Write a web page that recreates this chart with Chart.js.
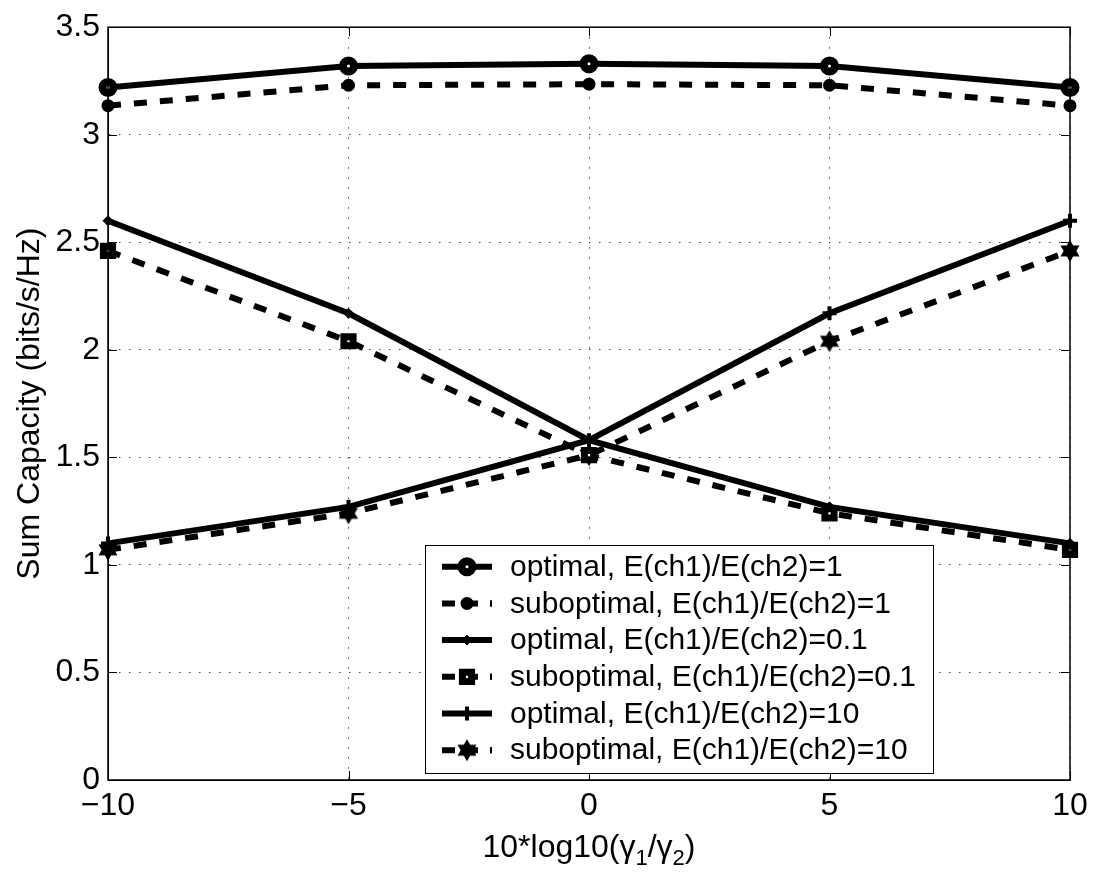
<!DOCTYPE html>
<html>
<head>
<meta charset="utf-8">
<script src="https://cdn.jsdelivr.net/npm/chart.js@4.4.1/dist/chart.umd.min.js"></script>
<style>
  html, body { margin: 0; padding: 0; background: #fff; }
  #wrap { width: 1095px; height: 879px; }
</style>
</head>
<body>
<div id="wrap"><canvas id="cap" width="1095" height="879"></canvas></div>
<script>
// Sum capacity vs 10*log10(gamma1/gamma2), optimal and suboptimal schemes

const xValues = [-10, -5, 0, 5, 10];

const optimal1 = [3.22, 3.32, 3.33, 3.32, 3.22];
const suboptimal1 = [3.135, 3.23, 3.235, 3.23, 3.135];
const optimal01 = [2.60, 2.17, 1.58, 1.27, 1.10];
const suboptimal01 = [2.46, 2.04, 1.51, 1.24, 1.07];
const optimal10 = [1.10, 1.27, 1.58, 2.17, 2.60];
const suboptimal10 = [1.07, 1.24, 1.51, 2.04, 2.46];

const seriesLabels = [
  'optimal, E(ch1)/E(ch2)=1',
  'suboptimal, E(ch1)/E(ch2)=1',
  'optimal, E(ch1)/E(ch2)=0.1',
  'suboptimal, E(ch1)/E(ch2)=0.1',
  'optimal, E(ch1)/E(ch2)=10',
  'suboptimal, E(ch1)/E(ch2)=10',
];

const xTicks = [-10, -5, 0, 5, 10];
const yTicks = [0, 0.5, 1, 1.5, 2, 2.5, 3, 3.5];

const FONT = "'Liberation Sans', Arial, Helvetica, sans-serif";
const LEGEND_SIZE = 30;
const AXIS_SIZE = 32;
const DASH = [13, 13];

// filled six-pointed star marker
function makeHexagram(r) {
  const size = Math.ceil(r * 2 + 4);
  const c = document.createElement('canvas');
  c.width = size;
  c.height = size;
  const g = c.getContext('2d');
  const cx = size / 2;
  const cy = size / 2;
  const inner = r / Math.sqrt(3);
  g.beginPath();
  for (let i = 0; i < 12; i++) {
    const a = -Math.PI / 2 + (i * Math.PI) / 6;
    const rr = i % 2 === 0 ? r : inner;
    const px = cx + rr * Math.cos(a);
    const py = cy + rr * Math.sin(a);
    if (i === 0) g.moveTo(px, py); else g.lineTo(px, py);
  }
  g.closePath();
  g.fillStyle = '#000';
  g.fill();
  return c;
}
const hexagram = makeHexagram(11);

function toPoints(ys) {
  return ys.map((y, i) => ({ x: xValues[i], y: y }));
}

function makeSet(label, ys, dashed, marker) {
  return Object.assign({
    label: label,
    data: toPoints(ys),
    borderColor: '#000',
    borderWidth: 6,
    borderDash: dashed ? DASH : [],
    borderCapStyle: 'butt',
    borderJoinStyle: 'miter',
    fill: false,
    tension: 0,
    clip: false,
    pointBorderColor: '#000',
    pointHoverRadius: 0,
  }, marker);
}

const datasets = [
  makeSet(seriesLabels[0], optimal1, false,
    { pointStyle: 'circle', pointRadius: 5.5, pointBorderWidth: 8, pointBackgroundColor: '#fff' }),
  makeSet(seriesLabels[1], suboptimal1, true,
    { pointStyle: 'circle', pointRadius: 6.5, pointBorderWidth: 0, pointBackgroundColor: '#000' }),
  makeSet(seriesLabels[2], optimal01, false,
    { pointStyle: 'rectRot', pointRadius: 5, pointBorderWidth: 1, pointBackgroundColor: '#000' }),
  makeSet(seriesLabels[3], suboptimal01, true,
    { pointStyle: 'rect', pointRadius: 6.5, pointBorderWidth: 7, pointBackgroundColor: '#fff' }),
  makeSet(seriesLabels[4], optimal10, false,
    { pointStyle: 'cross', pointRadius: 7, pointBorderWidth: 4, pointBackgroundColor: '#000' }),
  makeSet(seriesLabels[5], suboptimal10, true,
    { pointStyle: hexagram, pointRadius: 11, pointBorderWidth: 0, pointBackgroundColor: '#000' }),
];

/**
 * Box around the axes with inward tick marks on all four sides.
 */
const framePlugin = {
  id: 'frame',
  afterDatasetsDraw(chart) {
    const { ctx, chartArea: a, scales } = chart;
    ctx.save();
    ctx.setLineDash([]);
    ctx.strokeStyle = '#000';
    ctx.lineWidth = 1.5;
    ctx.strokeRect(a.left, a.top, a.right - a.left, a.bottom - a.top);
    const len = 9;
    ctx.beginPath();
    xTicks.forEach((v) => {
      const px = Math.round(scales.x.getPixelForValue(v)) + 0.5;
      ctx.moveTo(px, a.bottom); ctx.lineTo(px, a.bottom - len);
      ctx.moveTo(px, a.top); ctx.lineTo(px, a.top + len);
    });
    yTicks.forEach((v) => {
      const py = Math.round(scales.y.getPixelForValue(v)) + 0.5;
      ctx.moveTo(a.left, py); ctx.lineTo(a.left + len, py);
      ctx.moveTo(a.right, py); ctx.lineTo(a.right - len, py);
    });
    ctx.lineWidth = 1;
    ctx.stroke();
    ctx.restore();
  },
};

/**
 * Axis titles; the x title carries subscripts so it is drawn piece by piece.
 */
const titlesPlugin = {
  id: 'titles',
  afterDraw(chart) {
    const { ctx, chartArea: a } = chart;
    ctx.save();
    ctx.fillStyle = '#000';

    // y title
    ctx.font = AXIS_SIZE + 'px ' + FONT;
    ctx.textAlign = 'center';
    ctx.textBaseline = 'middle';
    ctx.translate(30, (a.top + a.bottom) / 2);
    ctx.rotate(-Math.PI / 2);
    ctx.fillText('Sum Capacity (bits/s/Hz)', 0, 0);
    ctx.setTransform(1, 0, 0, 1, 0, 0);

    // x title with subscripts
    const parts = [
      { t: '10*log10(\u03b3', sub: false },
      { t: '1', sub: true },
      { t: '/\u03b3', sub: false },
      { t: '2', sub: true },
      { t: ')', sub: false },
    ];
    const mainFont = AXIS_SIZE + 'px ' + FONT;
    const subFont = Math.round(AXIS_SIZE * 0.7) + 'px ' + FONT;
    let total = 0;
    parts.forEach((p) => {
      ctx.font = p.sub ? subFont : mainFont;
      p.w = ctx.measureText(p.t).width;
      total += p.w;
    });
    let x = (a.left + a.right) / 2 - total / 2;
    const base = 857;
    ctx.textAlign = 'left';
    ctx.textBaseline = 'alphabetic';
    parts.forEach((p) => {
      ctx.font = p.sub ? subFont : mainFont;
      ctx.fillText(p.t, x, p.sub ? base + 8 : base);
      x += p.w;
    });
    ctx.restore();
  },
};

/**
 * Boxed legend inside the plot, lower middle.
 */
const legendPlugin = {
  id: 'boxLegend',
  afterDraw(chart) {
    const { ctx } = chart;
    const box = { left: 425, top: 545, width: 508, height: 228 };
    const rowH = 36.7;
    const firstRow = 566.7;
    ctx.save();
    ctx.fillStyle = '#fff';
    ctx.fillRect(box.left, box.top, box.width, box.height);
    ctx.strokeStyle = '#000';
    ctx.lineWidth = 1;
    ctx.setLineDash([]);
    ctx.strokeRect(box.left + 0.5, box.top + 0.5, box.width, box.height);

    chart.data.datasets.forEach((ds, i) => {
      const y = firstRow + i * rowH;
      ctx.beginPath();
      ctx.setLineDash(ds.borderDash.length ? [13, 10, 13, 12] : []);
      ctx.lineCap = 'butt';
      ctx.lineWidth = ds.borderWidth;
      ctx.strokeStyle = '#000';
      ctx.moveTo(442, y);
      ctx.lineTo(492, y);
      ctx.stroke();
      if (ds.borderDash.length) {
        ctx.beginPath();
        ctx.setLineDash([]);
        ctx.lineWidth = 2;
        ctx.moveTo(491, y - 3);
        ctx.lineTo(491, y + 3);
        ctx.stroke();
      }

      ctx.setLineDash([]);
      ctx.fillStyle = ds.pointBackgroundColor;
      ctx.strokeStyle = '#000';
      ctx.lineWidth = ds.pointBorderWidth;
      Chart.helpers.drawPoint(ctx, {
        pointStyle: ds.pointStyle,
        radius: ds.pointRadius,
        borderWidth: ds.pointBorderWidth,
        rotation: 0,
      }, 467, y);

      ctx.fillStyle = '#000';
      ctx.font = LEGEND_SIZE + 'px ' + FONT;
      ctx.textAlign = 'left';
      ctx.textBaseline = 'middle';
      ctx.fillText(ds.label, 510, y + 1);
    });
    ctx.restore();
  },
};

const gridStyle = {
  color: '#444',
  lineWidth: 1,
  drawTicks: false,
};

new Chart(document.getElementById('cap'), {
  type: 'line',
  data: { datasets: datasets },
  options: {
    responsive: false,
    animation: false,
    devicePixelRatio: 1,
    layout: { padding: { left: 0, top: 21, right: 25, bottom: 0 } },
    plugins: {
      legend: { display: false },
      tooltip: { enabled: false },
    },
    scales: {
      x: {
        type: 'linear',
        min: -10,
        max: 10,
        afterFit: (s) => { s.height = 99; },
        afterBuildTicks: (s) => { s.ticks = xTicks.map((v) => ({ value: v })); },
        grid: gridStyle,
        border: { display: true, color: '#000', width: 1, dash: [1.5, 8.5] },
        ticks: {
          color: '#000',
          padding: 7,
          maxRotation: 0,
          font: { family: FONT, size: AXIS_SIZE },
          callback: (v) => String(v).replace('-', '\u2212'),
        },
      },
      y: {
        type: 'linear',
        min: 0,
        max: 3.5,
        afterFit: (s) => { s.width = 108; },
        afterBuildTicks: (s) => { s.ticks = yTicks.map((v) => ({ value: v })); },
        grid: gridStyle,
        border: { display: true, color: '#000', width: 1, dash: [1.5, 8.5] },
        ticks: {
          color: '#000',
          padding: 8,
          font: { family: FONT, size: AXIS_SIZE },
          callback: (v) => String(v),
        },
      },
    },
  },
  plugins: [framePlugin, titlesPlugin, legendPlugin],
});
</script>
</body>
</html>
